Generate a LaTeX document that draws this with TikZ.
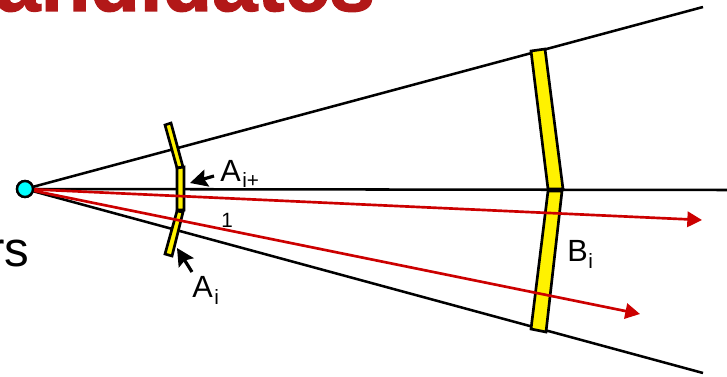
\documentclass[tikz,border=0pt]{standalone}
\usepackage{fontspec}
\setmainfont{Liberation Sans}
\newfontfamily\titlefont[FakeBold=1.6]{Liberation Sans Bold}
\usetikzlibrary{arrows.meta}
\definecolor{titlered}{RGB}{178,24,24}
\definecolor{rayred}{RGB}{204,0,0}
\definecolor{srccyan}{RGB}{0,255,255}
\tikzset{
  ray/.style={draw=black,line width=1.9pt},
  redray/.style={draw=rayred,line width=2pt,-{Stealth[length=11pt,width=11.5pt,inset=0pt]}},
  panel/.style={draw=black,fill=yellow,line width=2pt,line join=miter},
  pointer/.style={draw=black,line width=2.4pt,-{Stealth[length=13pt,width=13pt,inset=2pt]}},
  lbl/.style={inner sep=0pt,anchor=base west,text=black},
  source/.style={circle,draw=black,fill=srccyan,line width=1.8pt,minimum size=12pt,inner sep=0pt}
}
\begin{document}
\begin{tikzpicture}[x=0.75pt,y=-0.75pt]
\useasboundingbox (0,0) rectangle (727,377);
\clip (0,0) rectangle (727,377);
\fill[white] (0,0) rectangle (727,377);
\node[lbl,text=titlered] (title) at (-5,11) {\fontsize{61}{61}\selectfont\titlefont andidates};
\node[lbl] (rs) at (-12,267) {\fontsize{37}{37}\selectfont rs};
\node[source] (src) at (25,189) {};
\coordinate (topend) at (703,7);
\coordinate (midend) at (727,190);
\coordinate (botend) at (703,373);
\coordinate (redA) at (702,220);
\coordinate (redB) at (640,314);
\draw[ray] (src) -- (topend);
\draw[ray] (src) -- (midend);
\draw[ray] (src) -- (botend);
\draw[panel] (165,125) -- (171,123) -- (183,167) -- (177,168) -- cycle;
\draw[panel] (177,168) -- (184,167) -- (184,210) -- (177,210) -- cycle;
\draw[panel] (177,211) -- (183,212) -- (172,256) -- (165,254) -- cycle;
\draw[panel] (531,51) -- (545,49) -- (563,189) -- (548,189) -- cycle;
\draw[panel] (548,191) -- (562,191) -- (546,332) -- (531,329) -- cycle;
\draw[redray] (src) -- (redA);
\draw[redray] (src) -- (redB);
\node[source] at (25,189) {};
\coordinate (pa1) at (214,176);
\coordinate (pa2) at (190,183);
\coordinate (pb1) at (192,272);
\coordinate (pb2) at (177,248);
\draw[pointer] (pa1) -- (pa2);
\draw[pointer] (pb1) -- (pb2);
\node[lbl] (aiplus) at (220,182) {\fontsize{23}{23}\selectfont A};
\node[lbl] (aiplussub) at (242,188) {\fontsize{15.5}{15.5}\selectfont i+};
\node[lbl] (one) at (221,228) {\fontsize{15.5}{15.5}\selectfont 1};
\node[lbl] (ai) at (192,297) {\fontsize{23}{23}\selectfont A};
\node[lbl] (aisub) at (214,304) {\fontsize{15.5}{15.5}\selectfont i};
\node[lbl] (bi) at (567,262) {\fontsize{23}{23}\selectfont B};
\node[lbl] (bisub) at (588,269) {\fontsize{15.5}{15.5}\selectfont i};
\end{tikzpicture}
\end{document}
